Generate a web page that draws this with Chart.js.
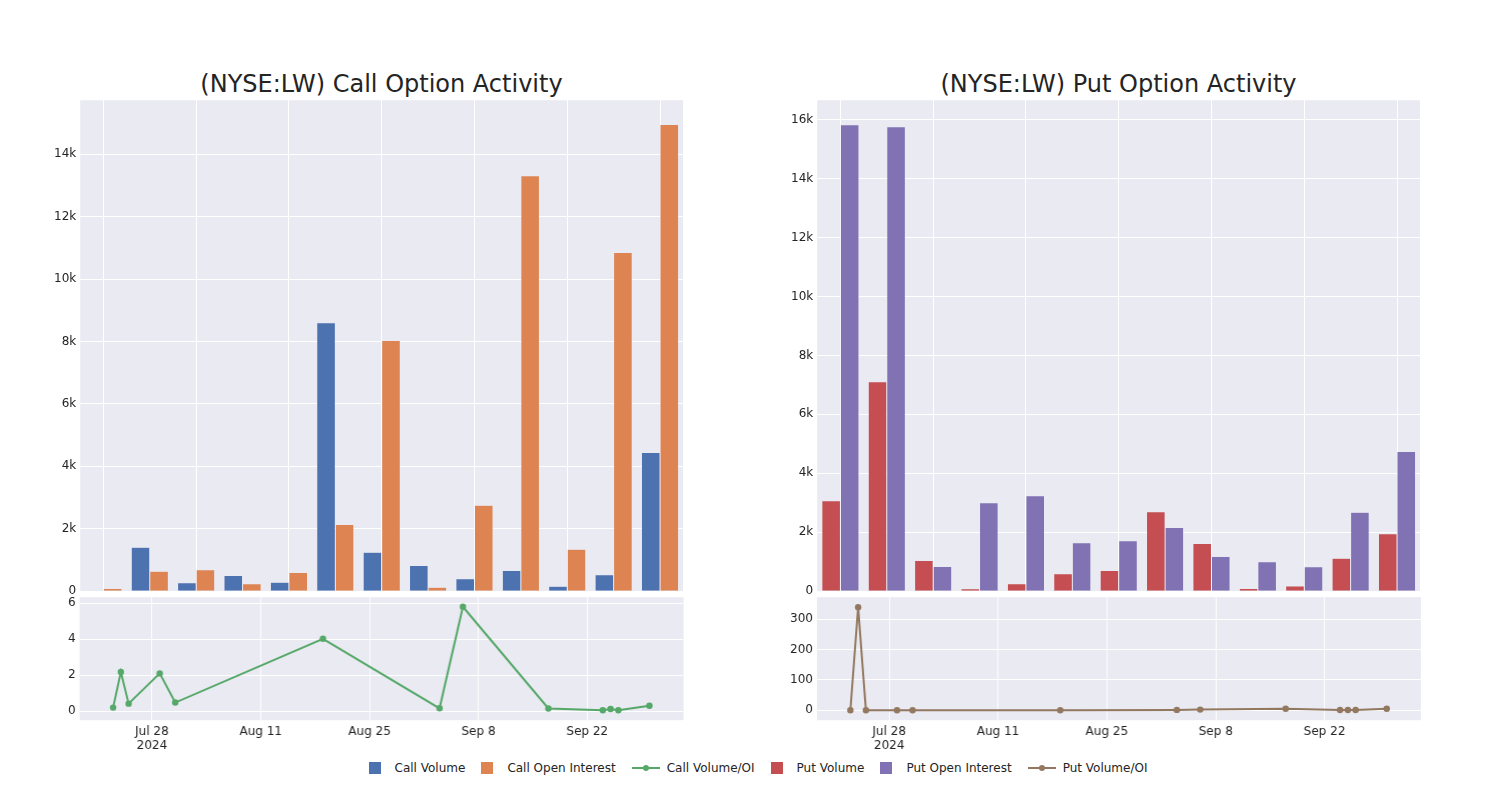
<!DOCTYPE html>
<html>
<head>
<meta charset="utf-8">
<script src="https://cdn.jsdelivr.net/npm/chart.js@4.4.1/dist/chart.umd.min.js"></script>
<style>
  body { margin: 0; width: 1500px; height: 800px; background: #fff; font-family: "DejaVu Sans", sans-serif; color: #242424; }
  .box { position: absolute; }
  .title { position: absolute; top: 69px; width: 603px; text-align: center; font-size: 24px; line-height: 30px; }
  #legend { position: absolute; top: 760px; left: 0; width: 1516px; display: flex; justify-content: center; font-size: 12px; line-height: 16px; }
  .item { display: flex; align-items: center; margin-right: 16px; }
  .item:last-child { margin-right: 0; }
  .sq { width: 12px; height: 12px; margin-right: 14px; }
  .ln { width: 28px; height: 2px; position: relative; margin-right: 7px; }
  .ln i { position: absolute; left: 11px; top: -2px; width: 6px; height: 6px; border-radius: 50%; }
</style>
</head>
<body>
<div class="title" style="left:80px">(NYSE:LW) Call Option Activity</div>
<div class="title" style="left:817px">(NYSE:LW) Put Option Activity</div>
<div class="box" id="callBarBox" style="left:40px;top:90px;width:650px;height:510px"><canvas id="callBar"></canvas></div>
<div class="box" id="callLineBox" style="left:40px;top:590px;width:650px;height:170px"><canvas id="callLine"></canvas></div>
<div class="box" id="putBarBox" style="left:777px;top:90px;width:650px;height:510px"><canvas id="putBar"></canvas></div>
<div class="box" id="putLineBox" style="left:777px;top:590px;width:650px;height:170px"><canvas id="putLine"></canvas></div>
<div id="legend"></div>
<script>
// dates des observations
const dates = ['2024-07-23', '2024-07-24', '2024-07-25', '2024-07-29', '2024-07-31', '2024-08-19',
               '2024-09-03', '2024-09-06', '2024-09-17', '2024-09-24', '2024-09-25', '2024-09-26', '2024-09-30'];

const callVolume = [20, 1410, 270, 500, 290, 8600, 1250, 820, 400, 660, 160, 530, 4440];
const callOpenInterest = [90, 640, 690, 240, 600, 2140, 8030, 130, 2750, 13310, 1340, 10850, 14950];
const callRatio = [0.2, 2.18, 0.42, 2.1, 0.48, 4.02, 0.16, 5.8, 0.15, 0.05, 0.12, 0.05, 0.3];

const putVolume = [3070, 7110, 1040, 80, 250, 590, 700, 2700, 1620, 90, 180, 1120, 1950];
const putOpenInterest = [15830, 15760, 840, 3000, 3240, 1640, 1710, 2160, 1180, 1000, 830, 2680, 4740];
const putRatio = [0, 340, 0, 0, 0, 0, 1, 2, 5, 0.5, 0.5, 0.5, 5];

const dateTicks = ['2024-07-28', '2024-08-11', '2024-08-25', '2024-09-08', '2024-09-22'];
const dateTickLabels = ['Jul 28', 'Aug 11', 'Aug 25', 'Sep 8', 'Sep 22'];
const callBarTicks = [0, 2000, 4000, 6000, 8000, 10000, 12000, 14000];
const putBarTicks = [0, 2000, 4000, 6000, 8000, 10000, 12000, 14000, 16000];
const callRatioTicks = [0, 2, 4, 6];
const putRatioTicks = [0, 100, 200, 300];

const COLORS = {
    callVol: '#4C72B0', callOI: '#DD8452', callRatio: '#55A868',
    putVol: '#C44E52', putOI: '#8172B3', putRatio: '#937860'
};

// jours depuis le 28 juillet
const origin = Date.UTC(2024, 6, 28);
function dayOf(s) {
    const p = s.split('-');
    return (Date.UTC(+p[0], +p[1] - 1, +p[2]) - origin) / 86400000;
}

const plotBg = {
    id: 'plotBg',
    beforeDraw(chart) {
        const a = chart.chartArea, ctx = chart.ctx;
        ctx.save();
        ctx.fillStyle = '#EAEAF2';
        ctx.fillRect(a.left, a.top, a.right - a.left, a.bottom - a.top);
        ctx.restore();
    }
};
Chart.register(plotBg);
Chart.defaults.font.family = '"DejaVu Sans", sans-serif';
Chart.defaults.font.size = 12;
Chart.defaults.color = '#242424';

const commonOptions = {
    responsive: true,
    maintainAspectRatio: false,
    animation: false,
    plugins: { legend: { display: false }, tooltip: { enabled: false } }
};

function fixedTicks(list) {
    return function(scale) { scale.ticks = list.map(v => ({ value: v })); };
}

function barChart(id, volume, oi, c1, c2, max, ticks) {
    return new Chart(document.getElementById(id), {
        type: 'bar',
        data: {
            labels: dates,
            datasets: [
                { data: volume, backgroundColor: c1, borderColor: 'rgba(234,234,242,0.7)', borderWidth: 0.5,
                  categoryPercentage: 0.8, barPercentage: 1.0 },
                { data: oi, backgroundColor: c2, borderColor: 'rgba(234,234,242,0.7)', borderWidth: 0.5,
                  categoryPercentage: 0.8, barPercentage: 1.0 }
            ]
        },
        options: {
            ...commonOptions,
            scales: {
                x: {
                    ticks: { display: false },
                    border: { display: false },
                    grid: {
                        offset: false, drawTicks: false, lineWidth: 1,
                        color: ctx => ctx.index % 2 === 0 ? '#ffffff' : 'rgba(0,0,0,0)'
                    }
                },
                y: {
                    min: 0, max: max,
                    afterBuildTicks: fixedTicks(ticks),
                    border: { display: false },
                    grid: { color: '#ffffff', drawTicks: false },
                    ticks: { padding: 4, callback: v => v === 0 ? '0' : (v / 1000) + 'k' }
                }
            }
        }
    });
}

function lineChart(id, values, color, ymin, ymax, ticks) {
    return new Chart(document.getElementById(id), {
        type: 'line',
        data: {
            datasets: [{
                data: dates.map((d, i) => ({ x: dayOf(d), y: values[i] })),
                borderColor: color, backgroundColor: color,
                borderWidth: 2, pointRadius: 3.2, pointBorderWidth: 0, tension: 0
            }]
        },
        options: {
            ...commonOptions,
            scales: {
                x: {
                    type: 'linear', min: -9.3, max: 68.4,
                    afterBuildTicks: fixedTicks(dateTicks.map(dayOf)),
                    border: { display: false },
                    grid: { color: '#ffffff', drawTicks: false },
                    ticks: {
                        padding: 4,
                        callback: function(v, i) {
                            return i === 0 ? [dateTickLabels[i], '2024'] : dateTickLabels[i];
                        }
                    }
                },
                y: {
                    min: ymin, max: ymax,
                    afterBuildTicks: fixedTicks(ticks),
                    border: { display: false },
                    grid: { color: '#ffffff', drawTicks: false },
                    ticks: { padding: 4 }
                }
            }
        }
    });
}

// place la zone de tracé exactement là où il faut
function place(chart, boxId, x0, x1, y0, y1) {
    const el = document.getElementById(boxId);
    const a = chart.chartArea;
    const padL = a.left, padT = a.top;
    const padR = chart.width - a.right, padB = chart.height - a.bottom;
    el.style.left = (x0 - padL) + 'px';
    el.style.top = (y0 - padT) + 'px';
    el.style.width = (x1 - x0 + padL + padR) + 'px';
    el.style.height = (y1 - y0 + padT + padB) + 'px';
    chart.resize();
}

const callBar = barChart('callBar', callVolume, callOpenInterest, COLORS.callVol, COLORS.callOI, 15730, callBarTicks);
const putBar = barChart('putBar', putVolume, putOpenInterest, COLORS.putVol, COLORS.putOI, 16660, putBarTicks);
const callLine = lineChart('callLine', callRatio, COLORS.callRatio, -0.5, 6.33, callRatioTicks);
const putLine = lineChart('putLine', putRatio, COLORS.putRatio, -33, 373, putRatioTicks);

place(callBar, 'callBarBox', 80, 683, 100, 591);
place(putBar, 'putBarBox', 817, 1420, 100, 591);
place(callLine, 'callLineBox', 80, 683, 597, 720);
place(putLine, 'putLineBox', 817, 1420, 597, 720);

// légende
const legendItems = [
    ['Call Volume', COLORS.callVol, 'bar'], ['Call Open Interest', COLORS.callOI, 'bar'],
    ['Call Volume/OI', COLORS.callRatio, 'line'], ['Put Volume', COLORS.putVol, 'bar'],
    ['Put Open Interest', COLORS.putOI, 'bar'], ['Put Volume/OI', COLORS.putRatio, 'line']
];
const legend = document.getElementById('legend');
legendItems.forEach(([name, color, kind]) => {
    const item = document.createElement('div');
    item.className = 'item';
    const mark = kind === 'bar'
        ? `<span class="sq" style="background:${color}"></span>`
        : `<span class="ln" style="background:${color}"><i style="background:${color}"></i></span>`;
    item.innerHTML = mark + `<span>${name}</span>`;
    legend.appendChild(item);
});
</script>
</body>
</html>
